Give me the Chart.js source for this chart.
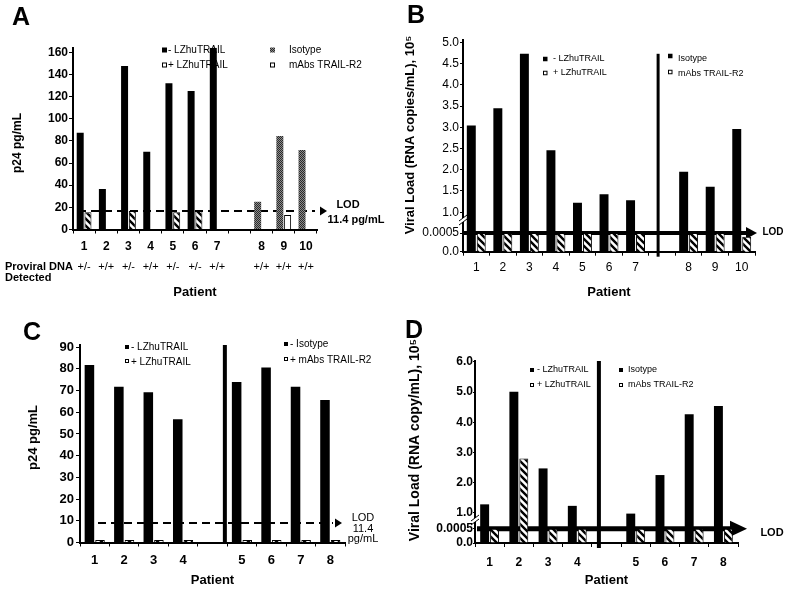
<!DOCTYPE html>
<html>
<head>
<meta charset="utf-8">
<script src="https://cdn.jsdelivr.net/npm/chart.js@4.4.1/dist/chart.umd.min.js"></script>
<style>
  body { margin: 0; background: #fff; width: 788px; height: 589px; position: relative; overflow: hidden; }
  canvas { position: absolute; }
  #cA { left: 0; top: 0; }
  #cB { left: 394px; top: 0; }
  #cC { left: 0; top: 300px; }
  #cD { left: 394px; top: 300px; }
</style>
</head>
<body>
<canvas id="cA" width="394" height="300"></canvas>
<canvas id="cB" width="394" height="300"></canvas>
<canvas id="cC" width="394" height="289"></canvas>
<canvas id="cD" width="394" height="289"></canvas>
<script>
// ---- panel A : p24 pg/mL ----
const aLabels   = ['1', '2', '3', '4', '5', '6', '7', '', '8', '9', '10'];
const aMinusLZ  = [87.4, 36.5, 147.5, 70.2, 131.9, 125, 164, null, null, null, null];
const aPlusLZ   = [15.5, 0, 16.7, 0, 15.5, 16.7, 0, null, null, null, null];
const aIsotype  = [null, null, null, null, null, null, null, null, 25.1, 84.4, 71.8];
const aMabs     = [null, null, null, null, null, null, null, null, 0, 13.1, 0];
const aProviral = ['+/-', '+/+', '+/-', '+/+', '+/-', '+/-', '+/+', '', '+/+', '+/+', '+/+'];
const aTicks    = [0, 20, 40, 60, 80, 100, 120, 140, 160];
const aLod      = 16.7;

// ---- panel B : viral load x10^5 (broken axis) ----
const bLabels   = ['1', '2', '3', '4', '5', '6', '7', '', '8', '9', '10'];
const bMinusLZ  = [3.04, 3.45, 4.73, 2.46, 1.22, 1.42, 1.28, null, null, null, null];
const bPlusLZ   = [0.0005, 0.0005, 0.0005, 0.0005, 0.0005, 0.0005, 0.0005, null, null, null, null];
const bIsotype  = [null, null, null, null, null, null, null, null, 1.95, 1.6, 2.96];
const bMabs     = [null, null, null, null, null, null, null, null, 0.0005, 0.0005, 0.0004];
const bTickVals = [0, 0.0005, 1, 1.5, 2, 2.5, 3, 3.5, 4, 4.5, 5];
const bTickText = ['0.0', '0.0005', '1.0', '1.5', '2.0', '2.5', '3.0', '3.5', '4.0', '4.5', '5.0'];
const bLod      = 0.0005;

// ---- panel C : p24 pg/mL ----
const cLabels   = ['1', '2', '3', '4', '', '5', '6', '7', '8'];
const cMinusLZ  = [81.8, 71.8, 69.2, 56.8, null, null, null, null, null];
const cPlusLZ   = [1.2, 1.2, 1.2, 1.2, null, null, null, null, null];
const cIsotype  = [null, null, null, null, null, 73.9, 80.6, 71.8, 65.7];
const cMabs     = [null, null, null, null, null, 1.2, 1.2, 1.2, 1.2];
const cTicks    = [0, 10, 20, 30, 40, 50, 60, 70, 80, 90];
const cLod      = 9;

// ---- panel D : viral load x10^5 (broken axis) ----
const dLabels   = ['1', '2', '3', '4', '', '5', '6', '7', '8'];
const dMinusLZ  = [1.28, 5.01, 2.47, 1.23, null, null, null, null, null];
const dPlusLZ   = [0.0005, 2.8, 0.0005, 0.0005, null, null, null, null, null];
const dIsotype  = [null, null, null, null, null, 0.95, 2.25, 4.26, 4.54];
const dMabs     = [null, null, null, null, null, 0.0005, 0.0005, 0.0005, 0.0005];
const dTickVals = [0, 0.0005, 1, 2, 3, 4, 5, 6];
const dTickText = ['0.0', '0.0005', '1.0', '2.0', '3.0', '4.0', '5.0', '6.0'];
const dLod      = 0.0005;

const FONT = '"Liberation Sans", Arial, Helvetica, sans-serif';
Chart.defaults.font.family = FONT;
Chart.defaults.color = '#000';

function stripes() {
  const c = document.createElement('canvas');
  c.width = c.height = 7;
  const g = c.getContext('2d');
  g.fillStyle = '#fff';
  g.fillRect(0, 0, 7, 7);
  g.strokeStyle = '#000';
  g.lineWidth = 2.4;
  g.beginPath();
  g.moveTo(-2, -2); g.lineTo(9, 9);
  g.moveTo(-2, 5); g.lineTo(2, 9);
  g.moveTo(5, -2); g.lineTo(9, 2);
  g.stroke();
  return g.createPattern(c, 'repeat');
}
function speckle() {
  const c = document.createElement('canvas');
  c.width = c.height = 2;
  const g = c.getContext('2d');
  g.fillStyle = '#2a2a2a'; g.fillRect(0, 0, 2, 2);
  g.fillStyle = '#8c8c8c'; g.fillRect(1, 0, 1, 1); g.fillRect(0, 1, 1, 1);
  return g.createPattern(c, 'repeat');
}
const HATCH = stripes();
const GRAY = speckle();

// broken axis: values >= 1 plotted as is, the LOD level squeezed below 1.0
function breakScale(lo, mid) {
  return v => v === null ? null
    : v >= 1 ? v
    : v >= 0.0005 ? mid + (v - 0.0005) / 0.9995 * (1 - mid)
    : lo + v / 0.0005 * (mid - lo);
}
const bMap = breakScale(0.07, 0.51);
const dMap = breakScale(0, 0.47);

function drawSquare(ctx, kind, x, y, s) {
  ctx.save();
  ctx.fillStyle = kind === 'black' ? '#000' : kind === 'gray' ? GRAY : kind === 'hatch' ? HATCH : '#fff';
  ctx.fillRect(x, y - s / 2, s, s);
  if (kind === 'white' || kind === 'hatch') {
    ctx.strokeStyle = '#000';
    ctx.lineWidth = 1;
    ctx.strokeRect(x + 0.5, y - s / 2 + 0.5, s - 1, s - 1);
  }
  ctx.restore();
}

function extras(p) {
  return {
    id: 'extras',
    beforeDatasetsDraw(chart) {
      const ctx = chart.ctx, area = chart.chartArea;
      const L = p.lod;
      const y = chart.scales.y.getPixelForValue(L.value);
      const x0 = area.left + L.start, x1 = area.right + L.end;
      ctx.save();
      ctx.strokeStyle = '#000';
      ctx.lineWidth = L.width;
      ctx.setLineDash(L.dash || []);
      ctx.beginPath();
      ctx.moveTo(x0, y);
      ctx.lineTo(x1, y);
      ctx.stroke();
      ctx.setLineDash([]);
      ctx.fillStyle = '#000';
      ctx.beginPath();
      ctx.moveTo(x1 + L.gap, y - L.ah);
      ctx.lineTo(x1 + L.gap + L.aw, y);
      ctx.lineTo(x1 + L.gap, y + L.ah);
      ctx.closePath();
      ctx.fill();
      if (p.divider) {
        const D = p.divider, xs = chart.scales.x;
        const slot = (area.right - area.left) / xs.getLabels().length;
        const x = xs.getPixelForValue(D.index) + D.offset * slot;
        ctx.lineWidth = D.width;
        ctx.beginPath();
        ctx.moveTo(x, chart.scales.y.getPixelForValue(D.top));
        ctx.lineTo(x, area.bottom + D.below);
        ctx.stroke();
      }
      ctx.restore();
    },
    afterDraw(chart) {
      const ctx = chart.ctx, area = chart.chartArea;
      ctx.save();
      ctx.fillStyle = '#000';
      ctx.textBaseline = 'alphabetic';
      ctx.font = 'bold 25px ' + FONT;
      ctx.fillText(p.letter.text, p.letter.x, p.letter.y);

      // y title
      ctx.save();
      ctx.translate(p.yTitle.x, p.yTitle.y);
      ctx.rotate(-Math.PI / 2);
      ctx.font = p.yTitle.font + ' ' + FONT;
      ctx.textAlign = 'center';
      ctx.textBaseline = 'middle';
      ctx.fillText(p.yTitle.text, 0, 0);
      ctx.restore();

      // legend
      ctx.textBaseline = 'middle';
      ctx.textAlign = 'left';
      ctx.font = p.legendFont + ' ' + FONT;
      p.legend.forEach(it => {
        drawSquare(ctx, it.kind, it.sx, it.sy, p.sq);
        ctx.fillStyle = '#000';
        ctx.fillText(it.text, it.tx, it.ty);
      });

      // free texts (LOD etc.)
      p.texts.forEach(t => {
        ctx.font = t.font + ' ' + FONT;
        ctx.textAlign = t.align || 'center';
        ctx.fillText(t.text, t.x, t.y);
      });

      // proviral DNA row under the category axis
      if (p.row) {
        ctx.font = p.row.font + ' ' + FONT;
        ctx.textAlign = 'center';
        p.row.values.forEach((v, i) => {
          ctx.fillText(v, chart.scales.x.getPixelForValue(i), p.row.y);
        });
      }

      // axis break marks
      if (p.brk) {
        const x = area.left;
        ctx.fillStyle = '#fff';
        ctx.fillRect(x - 2, p.brk - 2, 4, 4);
        ctx.strokeStyle = '#000';
        ctx.lineWidth = 1;
        ctx.beginPath();
        [-2, 2].forEach(d => {
          ctx.moveTo(x - 4, p.brk + d + 3);
          ctx.lineTo(x + 4, p.brk + d - 3);
        });
        ctx.stroke();
      }
      ctx.restore();
    }
  };
}

function bars(label, data, fill, outlined) {
  return {
    label: label,
    data: data,
    backgroundColor: fill,
    borderColor: '#000',
    borderWidth: outlined ? 1 : 0,
    skipNull: true
  };
}

function axes(c) {
  return {
    x: {
      type: 'category',
      offset: true,
      grid: { display: true, drawOnChartArea: false, drawTicks: true, tickLength: 4, color: '#000', offset: true },
      border: { display: true, color: '#000', width: 2 },
      ticks: { font: c.xFont, color: '#000', padding: c.xPad, maxRotation: 0, autoSkip: false },
      title: { display: true, text: 'Patient', color: '#000', font: { size: 13, weight: 'bold' }, padding: { top: 0, bottom: c.titlePad } },
      afterFit(s) { s.height = c.xHeight; }
    },
    y: {
      type: 'linear',
      min: c.min,
      max: c.max,
      grid: { display: true, drawOnChartArea: false, drawTicks: true, tickLength: c.yTick, color: '#000' },
      border: { display: true, color: '#000', width: 2 },
      ticks: {
        font: c.yFont, color: '#000', padding: c.yPad,
        callback: c.tickText ? (v, i) => c.tickText[i] : (v) => v
      },
      afterBuildTicks(s) { s.ticks = c.tickVals.map(v => ({ value: v })); },
      afterFit(s) { s.width = c.yWidth; }
    }
  };
}

function panel(id, labels, datasets, c, p) {
  return new Chart(document.getElementById(id), {
    type: 'bar',
    data: { labels: labels, datasets: datasets },
    options: {
      responsive: false,
      animation: false,
      categoryPercentage: c.cat,
      barPercentage: c.bar,
      layout: { padding: c.padding },
      plugins: { legend: { display: false }, tooltip: { enabled: false } },
      scales: axes(c)
    },
    plugins: [extras(p)]
  });
}

// A
panel('cA', aLabels, [
  bars('- LZhuTRAIL', aMinusLZ, '#000', false),
  bars('+ LZhuTRAIL', aPlusLZ, HATCH, true),
  bars('Isotype', aIsotype, GRAY, false),
  bars('mAbs TRAIL-R2', aMabs, '#fff', true)
], {
  cat: 0.7, bar: 0.9, min: 0, max: 164, tickVals: aTicks,
  padding: { left: 0, top: 47.8, right: 77, bottom: 0 }, xHeight: 70.5, yWidth: 73,
  xFont: { size: 12, weight: 'bold' }, xPad: 6, titlePad: 0,
  yFont: { size: 12, weight: 'bold' }, yPad: 1, yTick: 4
}, {
  letter: { text: 'A', x: 12, y: 25 },
  yTitle: { text: 'p24 pg/mL', x: 18, y: 143, font: 'bold 12px' },
  legendFont: '10px', sq: 5,
  legend: [
    { kind: 'black', sx: 162, sy: 50, tx: 168, ty: 50, text: '- LZhuTRAIL' },
    { kind: 'white', sx: 162, sy: 65, tx: 168, ty: 65, text: '+ LZhuTRAIL' },
    { kind: 'gray', sx: 270, sy: 50, tx: 289, ty: 50, text: 'Isotype' },
    { kind: 'white', sx: 270, sy: 65, tx: 289, ty: 65, text: 'mAbs TRAIL-R2' }
  ],
  texts: [
    { text: 'LOD', x: 348, y: 205, font: 'bold 11px' },
    { text: '11.4 pg/mL', x: 356, y: 220, font: 'bold 11px' },
    { text: 'Proviral DNA', x: 5, y: 267, font: 'bold 11px', align: 'left' },
    { text: 'Detected', x: 5, y: 277.5, font: 'bold 11px', align: 'left' }
  ],
  row: { values: aProviral, y: 267, font: '11px' },
  lod: { value: aLod, width: 2, dash: [8, 5], start: 5, end: -2, gap: 5, aw: 7, ah: 4.5 }
});

// B
panel('cB', bLabels, [
  bars('- LZhuTRAIL', bMinusLZ.map(bMap), '#000', false),
  bars('+ LZhuTRAIL', bPlusLZ.map(bMap), HATCH, true),
  bars('Isotype', bIsotype.map(bMap), '#000', false),
  bars('mAbs TRAIL-R2', bMabs.map(bMap), HATCH, true)
], {
  cat: 0.75, bar: 0.9, min: bMap(0), max: 5.05, tickVals: bTickVals.map(bMap), tickText: bTickText,
  padding: { left: 0, top: 40.2, right: 33, bottom: 0 }, xHeight: 48.3, yWidth: 69,
  xFont: { size: 12 }, xPad: 5, titlePad: 0,
  yFont: { size: 12 }, yPad: 1, yTick: 3
}, {
  letter: { text: 'B', x: 13, y: 23 },
  yTitle: { text: 'Viral Load (RNA copies/mL), 10\u2075', x: 16, y: 135, font: 'bold 13px' },
  legendFont: '9px', sq: 4.5,
  legend: [
    { kind: 'black', sx: 149, sy: 59, tx: 159, ty: 59, text: '- LZhuTRAIL' },
    { kind: 'white', sx: 149, sy: 73, tx: 159, ty: 73, text: '+ LZhuTRAIL' },
    { kind: 'black', sx: 274, sy: 56, tx: 284, ty: 59, text: 'Isotype' },
    { kind: 'white', sx: 274, sy: 72, tx: 284, ty: 74, text: 'mAbs TRAIL-R2' }
  ],
  texts: [
    { text: 'LOD', x: 379, y: 232, font: 'bold 10px' }
  ],
  lod: { value: bMap(bLod), width: 4, start: 0, end: -8, gap: -1, aw: 11, ah: 6 },
  divider: { index: 7, offset: -0.15, top: 4.73, below: 5, width: 3 },
  brk: 220
});

// C
panel('cC', cLabels, [
  bars('- LZhuTRAIL', cMinusLZ, '#000', false),
  bars('+ LZhuTRAIL', cPlusLZ, HATCH, true),
  bars('- Isotype', cIsotype, '#000', false),
  bars('+ mAbs TRAIL-R2', cMabs, HATCH, true)
], {
  cat: 0.72, bar: 0.9, min: 0, max: 91, tickVals: cTicks,
  padding: { left: 0, top: 45, right: 49, bottom: 0 }, xHeight: 46.5, yWidth: 80,
  xFont: { size: 13, weight: 'bold' }, xPad: 6, titlePad: 1,
  yFont: { size: 13, weight: 'bold' }, yPad: 2, yTick: 4
}, {
  letter: { text: 'C', x: 23, y: 40 },
  yTitle: { text: 'p24 pg/mL', x: 33, y: 137.5, font: 'bold 13px' },
  legendFont: '10px', sq: 4,
  legend: [
    { kind: 'black', sx: 125, sy: 47, tx: 131, ty: 47, text: '- LZhuTRAIL' },
    { kind: 'white', sx: 125, sy: 61, tx: 131, ty: 62, text: '+ LZhuTRAIL' },
    { kind: 'black', sx: 284, sy: 44, tx: 290, ty: 44, text: '- Isotype' },
    { kind: 'white', sx: 284, sy: 59, tx: 290, ty: 60, text: '+ mAbs TRAIL-R2' }
  ],
  texts: [
    { text: 'LOD', x: 363, y: 218, font: '11px' },
    { text: '11.4', x: 363, y: 228.5, font: '11px' },
    { text: 'pg/mL', x: 363, y: 239, font: '11px' }
  ],
  lod: { value: cLod, width: 2, dash: [8, 5], start: 5, end: -12, gap: 2, aw: 7, ah: 4.5 },
  divider: { index: 4, offset: 0.42, top: 91, below: 0, width: 4 }
});

// D
panel('cD', dLabels, [
  bars('- LZhuTRAIL', dMinusLZ.map(dMap), '#000', false),
  bars('+ LZhuTRAIL', dPlusLZ.map(dMap), HATCH, true),
  bars('Isotype', dIsotype.map(dMap), '#000', false),
  bars('mAbs TRAIL-R2', dMabs.map(dMap), HATCH, true)
], {
  cat: 0.68, bar: 0.9, min: 0, max: 6.03, tickVals: dTickVals.map(dMap), tickText: dTickText,
  padding: { left: 0, top: 60.9, right: 50, bottom: 0 }, xHeight: 46, yWidth: 81,
  xFont: { size: 12, weight: 'bold' }, xPad: 8, titlePad: 1,
  yFont: { size: 12, weight: 'bold' }, yPad: 0, yTick: 2
}, {
  letter: { text: 'D', x: 11, y: 38 },
  yTitle: { text: 'Viral Load (RNA copy/mL), 10\u2075', x: 21, y: 140, font: 'bold 14px' },
  legendFont: '9px', sq: 4,
  legend: [
    { kind: 'black', sx: 136, sy: 70, tx: 143, ty: 70, text: '- LZhuTRAIL' },
    { kind: 'white', sx: 136, sy: 85, tx: 143, ty: 85, text: '+ LZhuTRAIL' },
    { kind: 'black', sx: 225, sy: 70, tx: 234, ty: 70, text: 'Isotype' },
    { kind: 'white', sx: 225, sy: 85, tx: 234, ty: 85, text: 'mAbs TRAIL-R2' }
  ],
  texts: [
    { text: 'LOD', x: 378, y: 233, font: 'bold 11px' }
  ],
  lod: { value: dMap(dLod), width: 5, start: 2, end: -8, gap: 0, aw: 17, ah: 8 },
  divider: { index: 4, offset: -0.26, top: 6.03, below: 5, width: 4 },
  brk: 220
});
</script>
</body>
</html>
